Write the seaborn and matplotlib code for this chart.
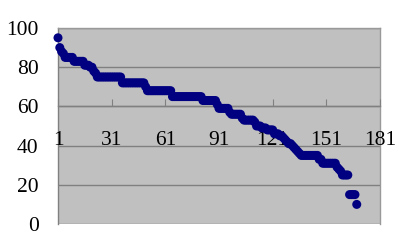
import matplotlib
matplotlib.use("Agg")
import matplotlib.pyplot as plt
import seaborn as sns
import pandas as pd

scores = [
    95, 90, 88, 87, 85, 85, 85, 85, 85,
    83, 83, 83, 83, 83, 83,
    81, 81, 81, 80, 80, 78, 77,
    75, 75, 75, 75, 75, 75, 75, 75, 75, 75, 75, 75, 75, 75,
    72, 72, 72, 72, 72, 72, 72, 72, 72, 72, 72, 72, 72, 70,
    68, 68, 68, 68, 68, 68, 68, 68, 68, 68, 68, 68, 68, 68,
    65, 65, 65, 65, 65, 65, 65, 65, 65, 65, 65, 65, 65, 65, 65, 65, 65,
    63, 63, 63, 63, 63, 63, 63, 63, 61,
    59, 59, 59, 59, 59, 59, 57,
    56, 56, 56, 56, 56, 56, 54,
    53, 53, 53, 53, 53, 53, 52,
    50, 50, 50, 49, 49, 49, 48, 48, 48, 48,
    46, 46, 46, 45, 45, 44, 43, 42, 41, 41, 40, 39, 38, 37, 36,
    35, 35, 35, 35, 35, 35, 35, 35, 35, 35,
    33, 33, 31, 31, 31, 31, 31, 31, 31, 31,
    29, 28, 27, 25, 25, 25, 25,
    15, 15, 15, 15, 10,
]
x_ticks = [1, 31, 61, 91, 121, 151, 181]
y_ticks = [0, 20, 40, 60, 80, 100]

df = pd.DataFrame({"n": range(1, len(scores) + 1), "score": scores})

plt.rcParams["font.family"] = ["Liberation Serif", "DejaVu Serif"]
fig = plt.figure(figsize=(4, 2.5), dpi=100)
ax = fig.add_axes([0.145, 0.104, 0.805, 0.784])

ax.set_facecolor("#C0C0C0")
sns.scatterplot(data=df, x="n", y="score", ax=ax, color="#000080",
                s=42, edgecolor="none", linewidth=0, legend=False, zorder=3,
                clip_on=False)

ax.set_xlim(1, 181)
ax.set_ylim(0, 100)
ax.set_xticks(x_ticks)
ax.set_xticklabels([str(v) for v in x_ticks])
ax.set_yticks(y_ticks)
ax.set_yticklabels([str(v) for v in y_ticks])
ax.set_xlabel("")
ax.set_ylabel("")

for yv in y_ticks:
    ax.axhline(yv, color="#808080", lw=1.0, zorder=1)

for side in ["top", "right", "left"]:
    ax.spines[side].set_color("#999999")
    ax.spines[side].set_linewidth(1.0)
    ax.spines[side].set_zorder(1.5)
ax.spines["left"].set_color("#808080")
ax.spines["bottom"].set_position(("data", 60))
ax.spines["bottom"].set_color("#808080")
ax.spines["bottom"].set_linewidth(1.0)
ax.spines["bottom"].set_zorder(1.5)

ax.tick_params(axis="x", direction="in", length=5, color="#808080", pad=18,
               labelcolor="black", labelsize=15.5)
ax.tick_params(axis="y", length=0, pad=14, labelcolor="black", labelsize=15.5)
ax.xaxis.set_zorder(2.8)

fig.savefig("out.png", dpi=100, facecolor="white")
